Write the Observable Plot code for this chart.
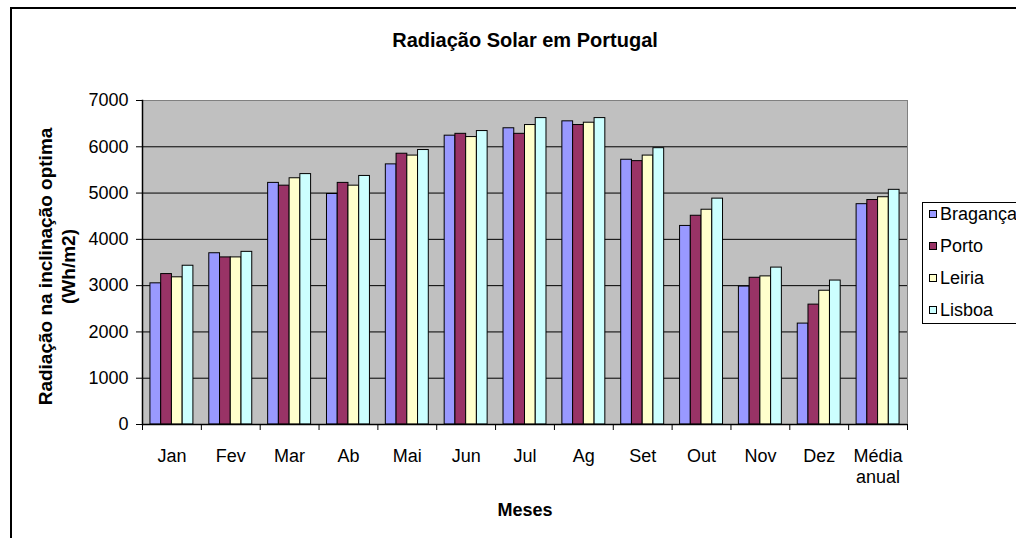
<!DOCTYPE html>
<html><head><meta charset="utf-8">
<script src="https://cdn.jsdelivr.net/npm/d3@7"></script>
<script src="https://cdn.jsdelivr.net/npm/@observablehq/plot@0.6"></script>
<style>
body{margin:0;background:#fff;font-family:"Liberation Sans",Arial,sans-serif;}
#wrap{position:relative;width:1016px;height:538px;overflow:hidden;background:#fff;}
#border{position:absolute;left:10px;top:7px;width:2000px;height:2000px;border-left:2px solid #000;border-top:2px solid #000;pointer-events:none;}
#legend{position:absolute;left:922px;top:202px;width:140px;height:122px;border:1px solid #000;background:#fff;box-sizing:border-box;font-size:18px;color:#000;overflow:hidden;}
#legend .inner{position:relative;top:-5px;}
#legend .row{height:32px;display:flex;align-items:center;padding-left:6px;white-space:nowrap;}
#legend .sw{width:8px;height:8px;border:1px solid #000;box-sizing:border-box;margin-right:3px;flex:none;}
</style></head><body>
<div id="wrap"><div id="chart"></div><div id="legend"></div><div id="border"></div></div>
<script>
const title = "Radiação Solar em Portugal";
const yTitle = "Radiação na inclinação optima\n(Wh/m2)";
const xTitle = "Meses";
const months = ["Jan","Fev","Mar","Ab","Mai","Jun","Jul","Ag","Set","Out","Nov","Dez","Média anual"];
const cities = ["Bragança","Porto","Leiria","Lisboa"];
const colors = ["#9999FF","#993366","#FFFFCC","#CCFFFF"];
const braganca = [3050, 3700, 5220, 4980, 5620, 6240, 6400, 6550, 5720, 4290, 2980, 2180, 4760];
const porto    = [3250, 3610, 5160, 5220, 5850, 6280, 6280, 6470, 5690, 4510, 3170, 2590, 4850];
const leiria   = [3180, 3610, 5320, 5160, 5810, 6210, 6470, 6520, 5810, 4640, 3200, 2890, 4910];
const lisboa   = [3430, 3730, 5410, 5370, 5930, 6340, 6620, 6620, 5970, 4880, 3390, 3110, 5070];
const yTicks = [0, 1000, 2000, 3000, 4000, 5000, 6000, 7000];

const series = [braganca, porto, leiria, lisboa];
const rows = [];
cities.forEach((c, j) => months.forEach((m, i) => rows.push({month: m, city: c, value: series[j][i]})));

const W = 1016, H = 538, mL = 142, mR = 109, mT = 100, mB = 114;
const step = (W - mL - mR) / months.length;
const gap = step * 0.135;
const bw = (step - 2 * gap) / cities.length;

const font = "Liberation Sans, Arial, sans-serif";
const barMarks = cities.map((c, j) => Plot.barY(rows.filter(d => d.city === c), {
  x: "month", y: "value", fill: "city", stroke: "#000", strokeWidth: 1,
  insetLeft: gap + j * bw, insetRight: gap + (cities.length - 1 - j) * bw
}));

const chart = Plot.plot({
  width: W, height: H,
  marginLeft: mL, marginRight: mR, marginTop: mT, marginBottom: mB,
  style: {fontFamily: font, background: "transparent", color: "#000"},
  x: {domain: months, padding: 0, round: false},
  y: {domain: [0, 7000]},
  color: {domain: cities, range: colors},
  marks: [
    Plot.frame({fill: "#C0C0C0", stroke: "#808080"}),
    Plot.gridY({ticks: yTicks.filter(v => v > 0 && v < 7000), stroke: "#000", strokeOpacity: 1, strokeWidth: 1}),
    ...barMarks,
    Plot.ruleY([0], {stroke: "#000", strokeWidth: 1.5}),
    Plot.frame({anchor: "left", stroke: "#000", strokeWidth: 1.5}),
    Plot.axisY({ticks: yTicks, tickSize: 6, tickPadding: 8, fontSize: 18, label: null, tickFormat: d => String(d)}),
    Plot.axisX({ticks: months, tickSize: 6, tickFormat: () => "", dx: step / 2, label: null}),
    Plot.axisX({ticks: [months[0]], tickSize: 6, tickFormat: () => "", dx: -step / 2, label: null}),
    Plot.axisX({ticks: months, tickSize: 0, tickPadding: 22, fontSize: 18, lineHeight: 1.2, label: null,
      tickFormat: d => d.replace(" ", "\n")}),
    Plot.text([title], {frameAnchor: "top", dy: -68, lineAnchor: "top", textAnchor: "middle", fontSize: 20, fontWeight: "bold"}),
    Plot.text([xTitle], {frameAnchor: "bottom", dy: 79, lineAnchor: "top", textAnchor: "middle", fontSize: 18, fontWeight: "bold"}),
    Plot.text([yTitle], {frameAnchor: "left", rotate: -90, dx: -86, dy: 4, textAnchor: "middle", lineAnchor: "middle", lineHeight: 1.2, fontSize: 19, fontWeight: "bold"})
  ]
});
document.getElementById("chart").appendChild(chart);

const legend = document.getElementById("legend");
const inner = document.createElement("div");
inner.className = "inner";
cities.forEach((c, j) => {
  const r = document.createElement("div");
  r.className = "row";
  const s = document.createElement("span");
  s.className = "sw";
  s.style.background = colors[j];
  const t = document.createElement("span");
  t.textContent = c;
  r.appendChild(s); r.appendChild(t);
  inner.appendChild(r);
});
legend.appendChild(inner);
</script>
</body></html>
